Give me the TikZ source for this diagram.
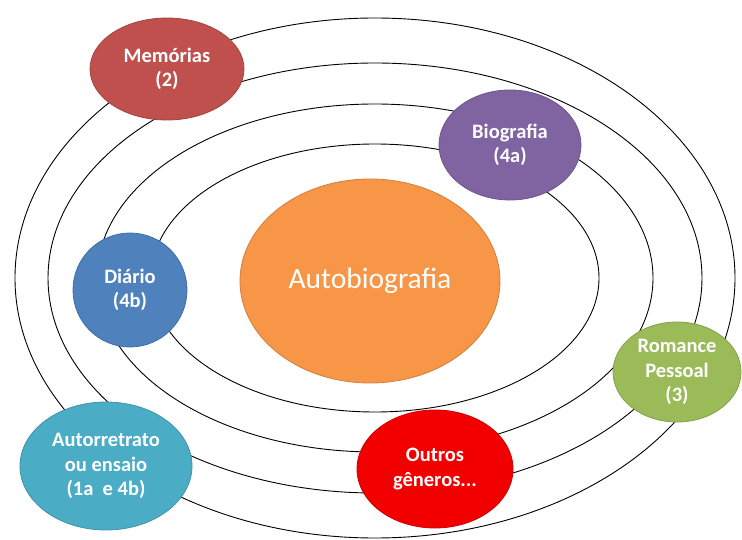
\documentclass[tikz,border=0pt]{standalone}
\usepackage{fontspec}
\setmainfont{Carlito}
\usetikzlibrary{shapes.geometric}
\definecolor{cMem}{HTML}{C0504D}
\definecolor{cBio}{HTML}{8064A2}
\definecolor{cDia}{HTML}{4F81BD}
\definecolor{cAuto}{HTML}{F79646}
\definecolor{cRom}{HTML}{9BBB59}
\definecolor{cOut}{HTML}{F20000}
\definecolor{cRet}{HTML}{4BACC6}
\tikzset{
  orbit/.style={draw=black, line width=0.9pt},
  genre/.style={ellipse, inner sep=0pt, text=white, align=center,
    font=\fontsize{20.5}{24.5}\selectfont\bfseries, line width=0.8pt},
}
\begin{document}
\begin{tikzpicture}[x=1pt,y=-1pt]
\useasboundingbox[fill=white] (0,0) rectangle (742,540);
\coordinate (c) at (375,278);
\draw[orbit] (c) ellipse [x radius=360, y radius=260];
\draw[orbit] (c) ellipse [x radius=327, y radius=215];
\draw[orbit] (c) ellipse [x radius=278, y radius=174];
\draw[orbit] (c) ellipse [x radius=224, y radius=134];

\node[genre, fill=cAuto, draw=cAuto!85!black, minimum width=260, minimum height=204,
  font=\fontsize{29.5}{34}\selectfont] (auto) at (370,281) {Autobiografia};
\node[genre, fill=cMem, draw=cMem!85!black, minimum width=154, minimum height=102]
  (mem) at (167,69) {Memórias\\(2)};
\node[genre, fill=cBio, draw=cBio!85!black, minimum width=142, minimum height=110]
  (bio) at (510,145) {Biografia\\(4a)};
\node[genre, fill=cDia, draw=cDia!85!black, minimum width=114, minimum height=114]
  (dia) at (130,290) {Diário\\(4b)};
\node[genre, fill=cRom, draw=cRom!85!black, minimum width=128, minimum height=100]
  (rom) at (677,372) {Romance\\Pessoal\\(3)};
\node[genre, fill=cOut, draw=cOut!85!black, minimum width=156, minimum height=118]
  (out) at (435,469) {Outros\\gêneros...};
\node[genre, fill=cRet, draw=cRet!85!black, minimum width=172, minimum height=128]
  (ret) at (106,466) {Autorretrato\\ou ensaio\\(1a\ \ e 4b)};
\end{tikzpicture}
\end{document}
